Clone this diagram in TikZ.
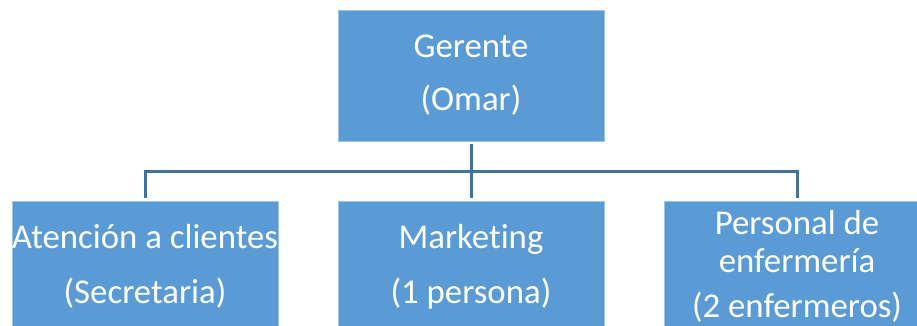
\documentclass[tikz,border=0pt]{standalone}
\usepackage{fontspec}
\setmainfont{Carlito}[Ligatures=NoCommon]
\definecolor{boxblue}{HTML}{5B9BD5}
\definecolor{boxedge}{HTML}{9DC3E6}
\definecolor{linkblue}{HTML}{41719C}
\tikzset{
  unit/.style={draw=boxedge, line width=0.8pt, fill=boxblue, text=white, align=center,
    inner sep=0pt, minimum width=266pt, minimum height=131pt,
    font=\fontsize{34.8}{38}\selectfont},
  link/.style={draw=linkblue, line width=3pt}
}
\begin{document}
\begin{tikzpicture}[x=1pt,y=-1pt]
        \useasboundingbox (0,0) rectangle (917,326);
        \node[unit] (G) at (471,75.5) {Gerente\\[15pt](Omar)};
        \node[unit] (A) at (145,266.5) {Atención a clientes\\[17pt](Secretaria)};
        \node[unit] (M) at (471,266.5) {Marketing\\[17pt](1 persona)};
        \node[unit] (P) at (797,266.5) {Personal de\\enfermería\\[7pt](2 enfermeros)};
        \coordinate (bus) at (471,171);
        \draw[link,shorten <=3pt] (G.south) -- (bus);
        \draw[link,shorten >=3pt] (bus) -| (A.north);
        \draw[link,shorten >=3pt] (bus) -- (M.north);
        \draw[link,shorten >=3pt] (bus) -| (P.north);
    \end{tikzpicture}
\end{document}
